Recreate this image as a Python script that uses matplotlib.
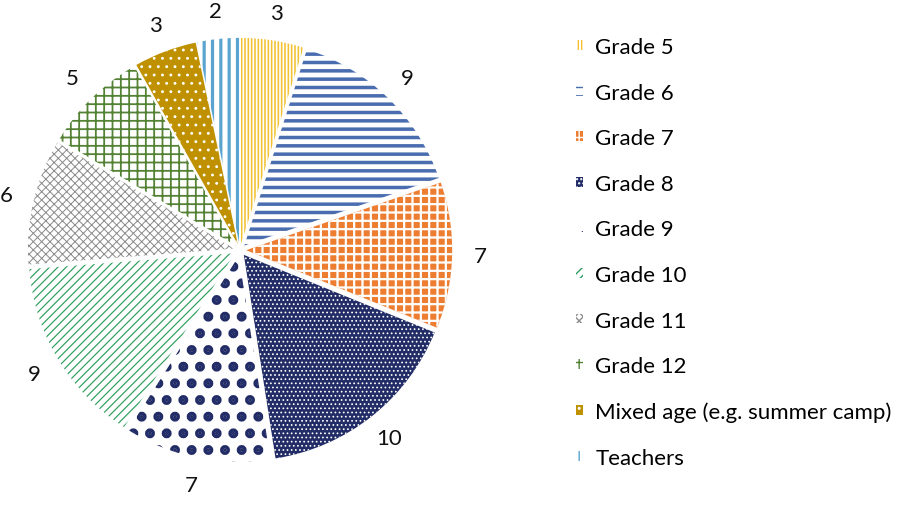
import matplotlib.pyplot as plt

plt.rcParams['font.family'] = ['Lato', 'DejaVu Sans']

categories = ['Grade 5', 'Grade 6', 'Grade 7', 'Grade 8', 'Grade 9', 'Grade 10',
              'Grade 11', 'Grade 12', 'Mixed age (e.g. summer camp)', 'Teachers']
counts = [3, 9, 7, 10, 7, 9, 6, 5, 3, 2]

# (face, hatch colour, hatch, hatch linewidth in px)
styles = [
    ('white', '#F2C232', '|||||', 1.6),
    ('white', '#4A6DB0', '--', 3.5),
    ('#ED7D31', 'white', '++', 2.2),
    ('#222C66', 'white', '....', 1.0),
    ('white', '#222C66', '.', 6.5),
    ('white', '#2E9E5E', '////', 1.2),
    ('white', '#8C8C8C', 'xxxx', 1.0),
    ('white', '#548235', '++', 1.8),
    ('#BF9000', 'white', '..', 1.2),
    ('white', '#5BA4CF', '||', 3.2),
]

fig = plt.figure(figsize=(8.98, 5.06), dpi=100)
ax = fig.add_axes([-0.0195, -0.005, 0.5735, 1.0178])

wedges, texts = ax.pie(counts, labels=[str(c) for c in counts], startangle=90,
                       counterclock=False, explode=[0.03] * len(counts),
                       labeldistance=1.135,
                       textprops=dict(fontsize=16, color='#111111'),
                       wedgeprops=dict(linewidth=0))
for t in texts:
    t.set_ha('center')
    t.set_va('center')

for w, (face, hcol, hatch, hlw) in zip(wedges, styles):
    w.set_facecolor(face)
    w.set_edgecolor(hcol)
    w.set_hatch(hatch)
    w.set_linewidth(0)
    if hasattr(w, 'set_hatch_linewidth'):
        w.set_hatch_linewidth(hlw * 0.72)
    else:
        w._hatch_linewidth = hlw * 0.72

ax.set_xlim(-1.25, 1.25)
ax.set_ylim(-1.25, 1.25)

fig.legend(wedges, categories, loc='upper left', bbox_to_anchor=(0.6195, 0.964),
           frameon=False, fontsize=16, handlelength=0.3, handleheight=0.3,
           handletextpad=0.55, labelspacing=1.15)

fig.savefig('out.png', dpi=100)
